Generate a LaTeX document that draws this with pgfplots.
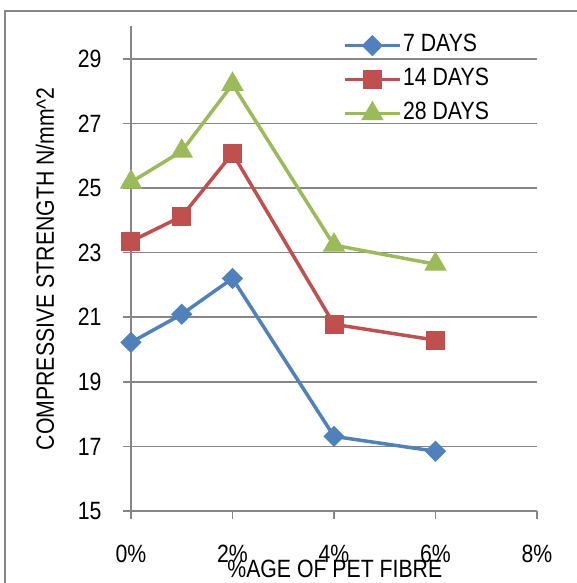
\documentclass[border=0pt]{standalone}
\usepackage{pgfplots}
\pgfplotsset{compat=1.18}
\usepackage{fontspec}
\setmainfont[FakeStretch=0.85]{Liberation Sans}
\definecolor{cblue}{HTML}{4F81BD}
\definecolor{cred}{HTML}{C0504D}
\definecolor{cgreen}{HTML}{9BBB59}
\definecolor{cgrid}{HTML}{868686}

\begin{document}
\begin{tikzpicture}
\useasboundingbox (-131bp,-72bp) rectangle (446bp,511bp);
\draw[cgrid, line width=1.5bp] (-126bp,-200bp) rectangle (600bp,500bp);
\begin{axis}[
    at={(0,0)}, anchor=south west,
    scale only axis,
    width=406bp, height=484.5bp,
    xmin=0, xmax=8, ymin=15, ymax=30,
    axis x line=bottom, axis y line=left,
    axis line style={cgrid, line width=1.5bp, -},
    xtick={0,2,4,6,8},
    xticklabels={0\%,2\%,4\%,6\%,8\%},
    ytick={15,17,19,21,23,25,27,29},
    ymajorgrids,
    grid style={cgrid, line width=1.5bp},
    tick align=outside,
    major tick length=8bp,
    tick style={cgrid, line width=1.5bp},
    /pgf/number format/assume math mode=true,
    font=\fontsize{25bp}{30bp}\selectfont,
    xticklabel style={anchor=center, yshift=-35bp},
    yticklabel style={xshift=-18bp},
    xlabel={\%AGE OF PET FIBRE},
    ylabel={COMPRESSIVE STRENGTH N/mm\^{}2},
    every axis x label/.style={at={(axis description cs:0.502,-0.12)}, anchor=center},
    every axis y label/.style={at={(axis description cs:-0.212,0.5)}, anchor=center, rotate=90},
    legend style={draw=none, fill=none, at={(axis description cs:0.522,0.9886)}, anchor=north west,
        inner sep=0pt, row sep=7bp,
        nodes={inner sep=1.5bp, text height=18bp, text depth=6bp}},
    legend cell align=left,
    legend image code/.code={\draw[#1,mark repeat=2,mark phase=2] plot coordinates {(0bp,0bp) (27.5bp,0bp) (55bp,0bp)};},
]
\addplot[cblue, line width=3.5bp, mark=square*, mark size=7bp, mark options={rotate=45, line width=1bp, fill=cblue}]
  coordinates {(0,20.22) (1,21.09) (2,22.2) (4,17.31) (6,16.85)};
\addlegendentry{7 DAYS}
\addplot[cred, line width=3.5bp, mark=square*, mark size=9bp, mark options={line width=1bp, fill=cred}]
  coordinates {(0,23.35) (1,24.12) (2,26.07) (4,20.78) (6,20.29)};
\addlegendentry{14 DAYS}
\addplot[cgreen, line width=3.5bp, mark=triangle*, mark size=12bp, mark options={line width=1bp, fill=cgreen}]
  coordinates {(0,25.18) (1,26.14) (2,28.21) (4,23.23) (6,22.64)};
\addlegendentry{28 DAYS}
\end{axis}
\end{tikzpicture}
\end{document}
